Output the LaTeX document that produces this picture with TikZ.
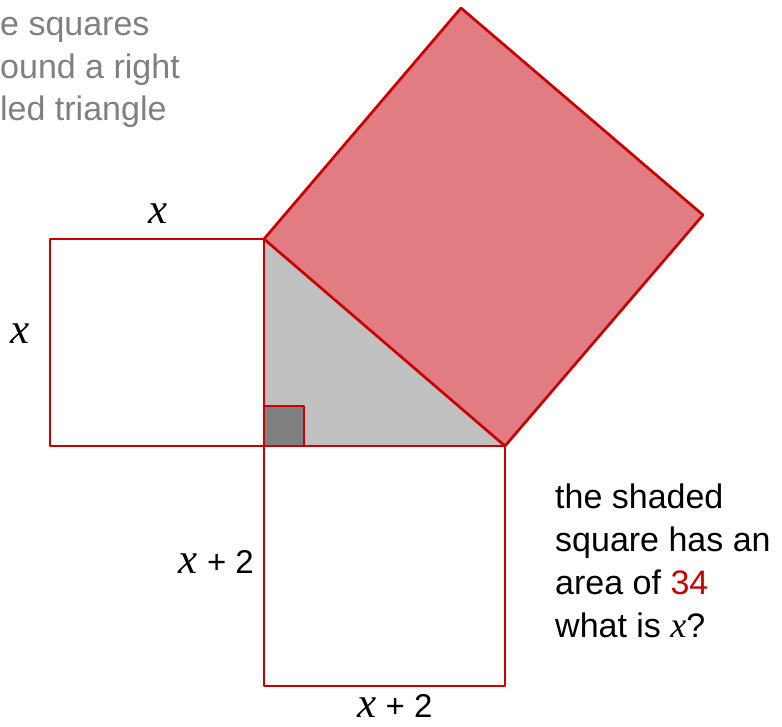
\documentclass[tikz,border=0pt]{standalone}
\usepackage{fontspec}
\setmainfont{Liberation Sans}
\newfontfamily\xserif{Liberation Serif}
\usepackage{xcolor}
\usetikzlibrary{calc}

\definecolor{edgered}{RGB}{204,0,0}
\definecolor{hypfill}{RGB}{224,124,130}
\definecolor{trigray}{RGB}{192,192,192}
\definecolor{markgray}{RGB}{128,128,128}
\definecolor{notegray}{RGB}{128,128,128}

\newcommand{\varx}{{\fontsize{43}{43}\selectfont\xserif\itshape x}}

\tikzset{
  sqedge/.style={draw=edgered, line width=2.7pt, line join=round},
  notetxt/.style={inner sep=0pt, anchor=base west, font=\fontsize{34}{34}\selectfont},
  sidelbl/.style={inner sep=0pt, font=\fontsize{33}{33}\selectfont}
}

\begin{document}
\begin{tikzpicture}[x=1pt,y=-1pt]
\useasboundingbox (0,0) rectangle (782,726);

% corners of the right triangle
\coordinate (C) at (264,446);
\coordinate (A) at (264,239);
\coordinate (B) at (505,446);
% outer corners of the square on the hypotenuse
\coordinate (D) at (703,215);
\coordinate (E) at (461,8);

% fills
\fill[trigray] (A) -- (B) -- (C) -- cycle;
\fill[hypfill] (A) -- (B) -- (D) -- (E) -- cycle;
\fill[markgray] (C) rectangle ($(C)+(40,-40)$);

% outlines
\draw[sqedge] (A) -- (B) -- (D) -- (E) -- cycle;
\draw[sqedge] (50,239) rectangle (C);
\draw[sqedge] (C) rectangle (505,686);
\draw[sqedge] (C) -- (A);
\draw[sqedge] (C) rectangle ($(C)+(40,-40)$);

% side labels
\node[sidelbl] (topx) at (158,214) {\varx};
\node[sidelbl] (leftx) at (20,334) {\varx};
\node[sidelbl, anchor=base east] (leftx2) at (254,573) {\varx{} + 2};
\node[sidelbl, anchor=base] (botx2) at (395,717) {\varx{} + 2};

% note in the corner, cut off at the left edge
\node[notetxt, text=notegray] (n1) at (0,35) {e squares};
\node[notetxt, text=notegray] (n2) at (0,78) {ound a right};
\node[notetxt, text=notegray] (n3) at (0,120) {led triangle};

% question
\node[notetxt] (q1) at (555,508) {the shaded};
\node[notetxt] (q2) at (555,551) {square has an};
\node[notetxt] (q3) at (555,594) {area of \textcolor{edgered}{34}};
\node[notetxt] (q4) at (555,637) {what is {\fontsize{36}{36}\selectfont\xserif\itshape x}?};
\end{tikzpicture}
\end{document}
